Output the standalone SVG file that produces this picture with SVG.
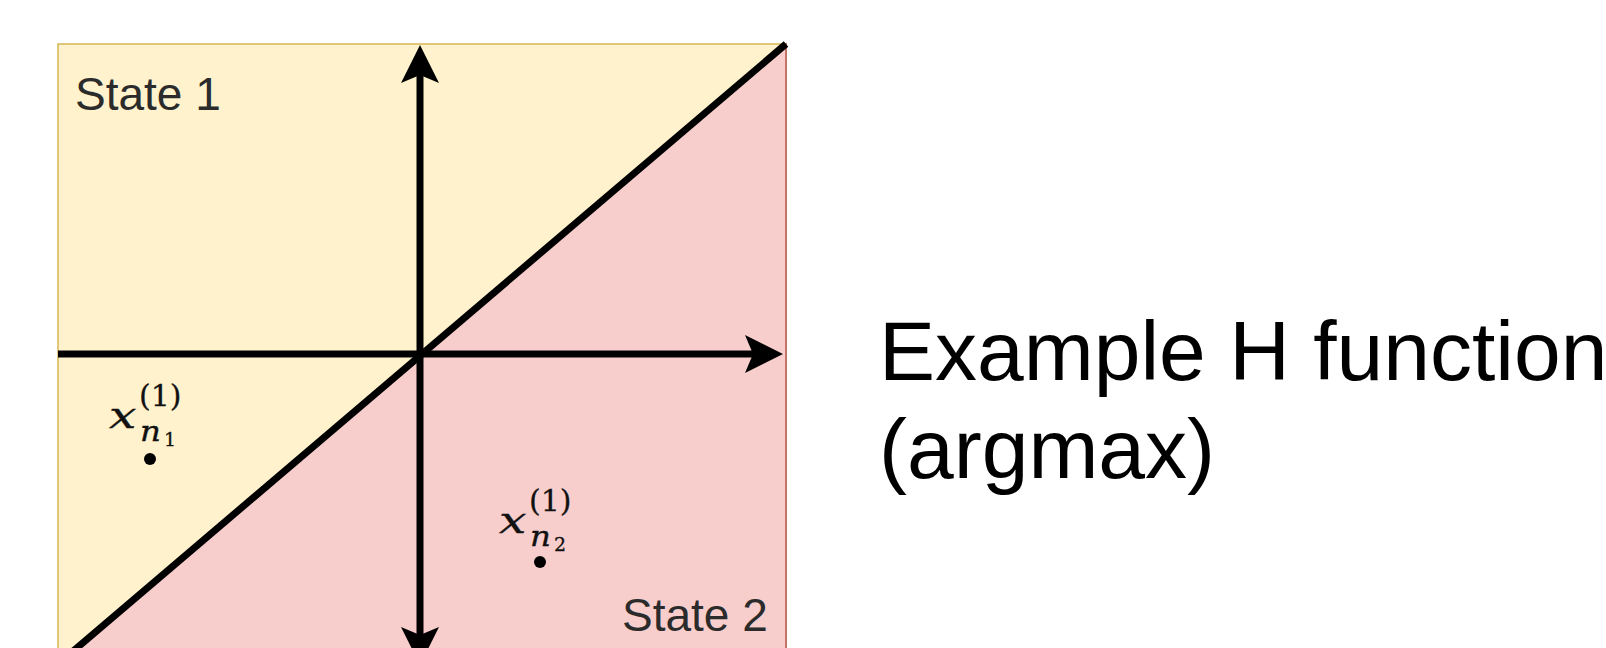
<svg xmlns="http://www.w3.org/2000/svg" width="1606" height="648" viewBox="0 0 1606 648">
  <style>
    .axis { stroke: #000; stroke-width: 7; fill: none; }
    .state { font-family: "Liberation Sans", Arial, sans-serif; font-size: 46px; fill: #2b2b2b; }
    .title { font-family: "Liberation Sans", Arial, sans-serif; font-size: 84px; fill: #000; }
    .mi { font-family: "DejaVu Serif", "Liberation Serif", serif; font-style: italic; fill: #111; stroke: #111; stroke-width: 0.35; }
    .mn { font-family: "DejaVu Serif", "Liberation Serif", serif; fill: #111; stroke: #111; stroke-width: 0.3; }
  </style>
  <defs>
    <marker id="arrow" viewBox="0 0 38 38" refX="8" refY="19" markerWidth="38" markerHeight="38" markerUnits="userSpaceOnUse" orient="auto-start-reverse">
      <path d="M0,0 L38,19 L0,38 L8,19 Z" fill="#000"/>
    </marker>
  </defs>
  <rect width="1606" height="648" fill="#fff"/>

  <g id="state1-region">
    <rect x="58" y="44" width="728" height="620" fill="#fff2cc" stroke="#d6b656" stroke-width="1.5"/>
  </g>
  <g id="state2-region">
    <polygon points="786,44 786,664 58,664" fill="#f8cecc" stroke="#b85450" stroke-width="1.5"/>
  </g>

  <g id="connectors">
    <line class="axis" x1="58" y1="354" x2="753" y2="354" marker-end="url(#arrow)"/>
    <line class="axis" x1="420" y1="75" x2="420" y2="635" marker-start="url(#arrow)" marker-end="url(#arrow)"/>
    <line class="axis" x1="786" y1="44" x2="58" y2="664"/>
  </g>

  <g id="state1-label">
    <text class="state" x="75" y="110">State 1</text>
  </g>
  <g id="state2-label">
    <text class="state" x="622" y="631">State 2</text>
  </g>

  <g id="point1">
    <text class="mi" transform="translate(109,428) scale(1.35,1)" font-size="36">x</text>
    <text class="mn" x="139" y="406" font-size="30">(1)</text>
    <text class="mi" transform="translate(140,441) scale(1.2,1)" font-size="27">n</text>
    <text class="mn" x="164" y="446" font-size="19">1</text>
    <circle cx="150" cy="459" r="6" fill="#000"/>
  </g>
  <g id="point2">
    <text class="mi" transform="translate(499,533) scale(1.35,1)" font-size="36">x</text>
    <text class="mn" x="529" y="511" font-size="30">(1)</text>
    <text class="mi" transform="translate(530,546) scale(1.2,1)" font-size="27">n</text>
    <text class="mn" x="554" y="551" font-size="19">2</text>
    <circle cx="540" cy="562" r="6" fill="#000"/>
  </g>

  <g id="title">
    <text class="title" x="879" y="380">Example H function</text>
    <text class="title" x="879" y="478">(argmax)</text>
  </g>
</svg>
